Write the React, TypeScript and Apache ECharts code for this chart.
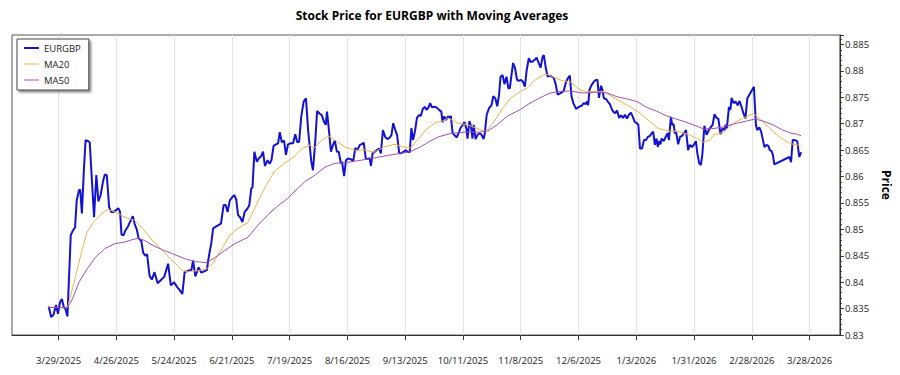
import React, { useEffect, useRef } from 'react';
import * as echarts from 'echarts';

// x values are days counted from 3/29/2025
const BASE_DATE_UTC = Date.UTC(2025, 2, 29);
const X_MIN = -22.57;
const X_MAX = 378.67;
const X_TICK_DAYS = [0, 28, 56, 84, 112, 140, 168, 196, 224, 252, 280, 308, 336, 364];

const Y_MIN = 0.83;
const Y_MAX = 0.8868;
const Y_STEP = 0.005;

const SERIES_NAMES = ['EURGBP', 'MA20', 'MA50'];

const eurgbp: [number, number][] = [
  [-4.8, 0.8354], [-3.6, 0.8334], [-2.5, 0.8338], [-1.2, 0.8357], [-0.3, 0.834], [0.7, 0.8362],
  [1.6, 0.8368], [2.6, 0.8352], [3.2, 0.8351], [4.3, 0.8335], [5.9, 0.8489], [7.0, 0.8498],
  [8.0, 0.8504], [8.8, 0.8555], [9.9, 0.8574], [10.5, 0.8575], [11.3, 0.853], [12.3, 0.8615],
  [13.1, 0.8669], [14.3, 0.8667], [15.1, 0.8665], [16.2, 0.859], [17.2, 0.8523], [18.3, 0.8603],
  [19.3, 0.8553], [20.4, 0.8565], [21.5, 0.859], [22.4, 0.8604], [23.4, 0.8602], [24.5, 0.8542],
  [25.5, 0.8533], [26.6, 0.8533], [27.7, 0.8536], [29.0, 0.854], [29.8, 0.8533], [30.5, 0.849],
  [31.5, 0.8489], [32.4, 0.8498], [33.7, 0.8506], [35.0, 0.8517], [36.0, 0.8525], [36.9, 0.851],
  [37.9, 0.85], [38.8, 0.8483], [40.1, 0.8478], [41.0, 0.8456], [42.0, 0.845], [42.9, 0.8453],
  [44.1, 0.8412], [45.2, 0.8405], [46.5, 0.8419], [48.0, 0.8398], [49.6, 0.8404], [51.2, 0.841],
  [53.1, 0.8435], [54.4, 0.8394], [56.0, 0.84], [57.6, 0.839], [58.9, 0.8384], [60.0, 0.8378],
  [61.1, 0.8419], [63.2, 0.8422], [64.4, 0.8423], [65.2, 0.8441], [66.3, 0.8411], [67.9, 0.8428],
  [69.2, 0.8418], [70.3, 0.842], [71.9, 0.8423], [72.4, 0.8438], [73.2, 0.8457], [74.0, 0.8473],
  [74.9, 0.8502], [76.2, 0.8505], [77.5, 0.8508], [78.7, 0.8511], [80.0, 0.8546], [81.0, 0.8546],
  [81.9, 0.8533], [83.0, 0.8555], [84.2, 0.8561], [85.1, 0.8565], [86.1, 0.8557], [87.0, 0.8527],
  [88.0, 0.8523], [89.1, 0.8514], [90.2, 0.8533], [91.5, 0.8539], [92.4, 0.8545], [93.4, 0.8577],
  [94.0, 0.858], [94.9, 0.8647], [96.1, 0.8628], [97.2, 0.8635], [98.1, 0.8638], [99.1, 0.8647],
  [100.0, 0.862], [101.3, 0.8631], [102.3, 0.8624], [103.2, 0.8631], [104.2, 0.8658], [105.4, 0.8661],
  [106.4, 0.8663], [107.2, 0.8684], [108.2, 0.8665], [109.3, 0.8668], [110.2, 0.8641], [111.2, 0.8661],
  [112.5, 0.8663], [113.7, 0.8663], [114.7, 0.868], [115.7, 0.8665], [116.6, 0.8666], [117.6, 0.8713],
  [118.8, 0.8742], [119.9, 0.8748], [121.0, 0.8685], [121.5, 0.8666], [122.5, 0.8628], [123.3, 0.8612],
  [124.4, 0.8666], [125.3, 0.8724], [126.6, 0.8719], [127.6, 0.8716], [128.7, 0.8703], [129.5, 0.8698],
  [130.1, 0.8723], [131.1, 0.8685], [132.0, 0.8647], [133.0, 0.866], [133.9, 0.8668], [134.9, 0.8647],
  [135.8, 0.8647], [136.8, 0.8625], [137.4, 0.8628], [138.4, 0.8601], [139.3, 0.8631], [140.3, 0.8634],
  [141.6, 0.8633], [142.8, 0.8629], [143.8, 0.8654], [144.8, 0.865], [146.0, 0.866], [146.9, 0.8661],
  [147.9, 0.8664], [148.9, 0.8634], [149.8, 0.8633], [150.8, 0.8635], [151.4, 0.862], [152.2, 0.8644],
  [153.3, 0.8647], [154.3, 0.865], [155.4, 0.8653], [156.2, 0.8644], [157.2, 0.8688], [158.3, 0.8675],
  [159.4, 0.8671], [160.3, 0.8673], [161.3, 0.8678], [162.2, 0.8701], [163.2, 0.8688], [164.1, 0.8678],
  [165.1, 0.8644], [166.0, 0.8644], [167.3, 0.8647], [168.3, 0.865], [169.2, 0.8647], [170.2, 0.8646],
  [171.0, 0.8692], [171.8, 0.8669], [172.7, 0.8685], [173.7, 0.8711], [174.6, 0.8716], [175.6, 0.8715],
  [176.5, 0.8728], [177.5, 0.8732], [178.4, 0.8726], [179.4, 0.8732], [180.1, 0.8739], [181.0, 0.8731],
  [182.0, 0.8732], [183.2, 0.8731], [184.5, 0.8726], [185.5, 0.8723], [186.1, 0.8703], [186.9, 0.8714],
  [187.8, 0.8707], [188.8, 0.8714], [189.7, 0.8711], [190.1, 0.8715], [191.0, 0.8682], [192.0, 0.8678],
  [192.9, 0.8674], [193.9, 0.8682], [194.8, 0.8692], [195.9, 0.8698], [196.7, 0.8703], [197.7, 0.869],
  [198.2, 0.8672], [199.1, 0.8705], [199.9, 0.8695], [200.6, 0.8672], [201.2, 0.8698], [202.1, 0.8671],
  [203.1, 0.8679], [204.1, 0.8682], [205.0, 0.8679], [206.0, 0.8671], [206.6, 0.8682], [207.5, 0.8717],
  [208.7, 0.873], [209.8, 0.8735], [210.7, 0.8752], [211.7, 0.8748], [212.6, 0.8733], [213.5, 0.8755],
  [214.2, 0.8789], [215.2, 0.8792], [216.1, 0.8775], [217.1, 0.8789], [218.0, 0.8767], [218.7, 0.8767],
  [219.3, 0.8786], [220.3, 0.8815], [221.2, 0.8806], [222.2, 0.8783], [223.1, 0.8781], [224.1, 0.8783],
  [225.0, 0.878], [226.0, 0.877], [226.9, 0.8802], [227.9, 0.8824], [228.8, 0.8817], [229.8, 0.8818],
  [230.8, 0.8821], [231.7, 0.8825], [232.7, 0.8815], [233.6, 0.8806], [234.6, 0.8827], [235.2, 0.883],
  [236.2, 0.8804], [237.1, 0.8789], [238.1, 0.8791], [239.0, 0.8789], [240.0, 0.8787], [240.9, 0.8775],
  [241.9, 0.8755], [242.8, 0.8757], [243.8, 0.8759], [244.8, 0.8762], [246.0, 0.878], [247.0, 0.8787],
  [247.8, 0.8791], [248.6, 0.8752], [249.5, 0.8739], [250.8, 0.8728], [252.2, 0.8732], [253.5, 0.8734],
  [254.5, 0.8739], [255.4, 0.8737], [256.1, 0.8742], [256.7, 0.8735], [257.3, 0.8764], [258.3, 0.8773],
  [259.5, 0.878], [260.5, 0.8783], [261.2, 0.8783], [261.9, 0.8749], [262.9, 0.8772], [263.6, 0.8764],
  [264.3, 0.8748], [265.3, 0.8747], [266.2, 0.8742], [267.2, 0.8737], [268.1, 0.8728], [268.8, 0.8723],
  [269.8, 0.872], [270.7, 0.8725], [271.7, 0.8711], [272.6, 0.8716], [273.6, 0.8711], [274.5, 0.8717],
  [275.5, 0.871], [276.4, 0.8717], [277.4, 0.8721], [278.3, 0.8713], [279.3, 0.8703], [280.3, 0.8701],
  [281.0, 0.8698], [281.8, 0.8653], [282.8, 0.8653], [283.7, 0.8669], [284.7, 0.8669], [285.6, 0.8675],
  [286.6, 0.8677], [287.5, 0.8682], [288.2, 0.8685], [289.0, 0.866], [289.8, 0.8672], [290.4, 0.8656],
  [291.1, 0.8667], [291.7, 0.8661], [292.3, 0.8672], [293.3, 0.8667], [294.2, 0.8675], [295.2, 0.8682],
  [295.8, 0.8669], [296.8, 0.8713], [297.4, 0.8698], [298.1, 0.8699], [298.7, 0.8682], [299.3, 0.8684],
  [300.3, 0.8661], [301.2, 0.8675], [302.2, 0.8677], [303.1, 0.8682], [304.1, 0.8688], [305.1, 0.865],
  [306.0, 0.866], [307.0, 0.8656], [307.9, 0.866], [308.9, 0.8667], [309.6, 0.8644], [310.5, 0.8625],
  [311.3, 0.8622], [312.0, 0.8641], [313.0, 0.8696], [314.1, 0.8679], [315.1, 0.8688], [316.0, 0.8693],
  [317.0, 0.8698], [317.9, 0.8718], [318.9, 0.8711], [319.8, 0.8709], [320.8, 0.868], [321.7, 0.8691],
  [322.7, 0.8688], [323.3, 0.8698], [323.9, 0.8691], [324.9, 0.8732], [325.6, 0.8726], [326.2, 0.8749],
  [327.2, 0.8739], [328.1, 0.8742], [329.1, 0.8735], [330.0, 0.8743], [331.0, 0.8732], [331.9, 0.872],
  [332.9, 0.871], [333.8, 0.8748], [334.8, 0.8755], [336.1, 0.8764], [337.0, 0.877], [338.0, 0.8697],
  [338.6, 0.8688], [339.6, 0.8693], [340.5, 0.8685], [341.5, 0.8667], [342.1, 0.8656], [343.1, 0.866],
  [344.0, 0.8658], [344.7, 0.865], [345.6, 0.8648], [346.2, 0.8641], [346.9, 0.8623], [354.2, 0.8637],
  [355.0, 0.8627], [355.8, 0.8669], [356.8, 0.8669], [358.0, 0.8667], [359.0, 0.8637], [359.9, 0.8646],
];

const ma20: [number, number][] = [
  [-4.8, 0.8352], [4.3, 0.8352], [6.7, 0.8387], [9.1, 0.8425], [11.5, 0.8463], [13.8, 0.8495],
  [17.0, 0.8514], [20.2, 0.8527], [23.9, 0.8538], [27.4, 0.8533], [32.2, 0.8523], [36.9, 0.8517],
  [40.9, 0.8501], [44.8, 0.8482], [49.6, 0.8463], [54.4, 0.8443], [57.6, 0.8432], [60.0, 0.8422],
  [62.4, 0.842], [67.9, 0.8422], [71.9, 0.8425], [75.1, 0.8438], [79.1, 0.8463], [83.0, 0.8489],
  [87.0, 0.8502], [91.8, 0.8513], [94.9, 0.8539], [99.7, 0.8577], [104.5, 0.8609], [109.3, 0.8625],
  [114.0, 0.8637], [118.0, 0.8653], [122.0, 0.866], [123.6, 0.8653], [126.8, 0.8666], [130.7, 0.8677],
  [134.7, 0.8667], [138.7, 0.8656], [143.5, 0.865], [148.2, 0.865], [153.0, 0.8646], [157.8, 0.8656],
  [162.5, 0.8661], [167.3, 0.8656], [170.5, 0.8654], [174.5, 0.8672], [178.4, 0.869], [183.2, 0.8703],
  [186.1, 0.8705], [188.8, 0.8711], [193.6, 0.8701], [198.3, 0.8698], [202.3, 0.8692], [207.1, 0.8685],
  [211.1, 0.8704], [215.0, 0.8728], [219.0, 0.8748], [223.8, 0.8761], [227.0, 0.8767], [231.0, 0.8783],
  [234.9, 0.8792], [236.5, 0.8794], [240.5, 0.8787], [244.5, 0.8781], [248.4, 0.8779], [251.6, 0.8767],
  [255.6, 0.876], [259.5, 0.8761], [264.3, 0.8761], [268.3, 0.8751], [272.3, 0.8742], [277.0, 0.8732],
  [281.8, 0.872], [286.6, 0.8704], [290.6, 0.8691], [296.1, 0.8686], [300.9, 0.8685], [305.7, 0.8679],
  [309.6, 0.8672], [312.0, 0.8665], [315.2, 0.8668], [317.6, 0.8679], [322.4, 0.8684], [327.2, 0.8701],
  [331.9, 0.8711], [336.7, 0.8719], [339.9, 0.871], [344.7, 0.8691], [349.4, 0.8675], [354.2, 0.8663],
  [357.4, 0.866], [359.8, 0.8658],
];

const ma50: [number, number][] = [
  [-4.8, 0.8352], [4.3, 0.8352], [6.7, 0.8368], [9.9, 0.84], [13.8, 0.8425], [17.8, 0.8447],
  [22.6, 0.8464], [27.4, 0.8473], [32.2, 0.8476], [36.1, 0.8481], [38.5, 0.8483], [41.7, 0.8479],
  [46.5, 0.8468], [51.2, 0.846], [55.2, 0.8454], [61.5, 0.8444], [66.3, 0.8439], [71.9, 0.8437],
  [75.9, 0.8447], [80.6, 0.846], [85.4, 0.8473], [91.8, 0.8485], [96.6, 0.8508], [101.3, 0.8527],
  [106.1, 0.8544], [110.9, 0.8558], [115.7, 0.8577], [119.6, 0.8591], [124.4, 0.8603], [129.2, 0.8618],
  [133.9, 0.8625], [140.3, 0.8627], [146.7, 0.8631], [153.0, 0.8635], [159.4, 0.864], [165.7, 0.8644],
  [170.5, 0.8647], [175.3, 0.8656], [180.1, 0.8667], [184.0, 0.8675], [190.4, 0.8682], [196.7, 0.8684],
  [203.1, 0.8684], [207.9, 0.8686], [212.6, 0.8698], [217.4, 0.8714], [223.8, 0.8727], [228.5, 0.8739],
  [233.3, 0.8749], [238.1, 0.8758], [242.8, 0.8761], [247.6, 0.8762], [254.8, 0.8758], [261.2, 0.876],
  [266.0, 0.8758], [270.7, 0.8751], [275.5, 0.8747], [280.3, 0.8742], [285.0, 0.8731], [289.8, 0.8724],
  [294.6, 0.8715], [299.3, 0.8709], [304.1, 0.8703], [308.9, 0.8696], [312.8, 0.869], [317.6, 0.8691],
  [322.4, 0.8694], [328.7, 0.8701], [333.5, 0.8705], [337.5, 0.8709], [341.5, 0.8705], [346.2, 0.8698],
  [351.0, 0.8688], [355.0, 0.8682], [358.2, 0.868], [359.9, 0.8677],
];

const FONT = "'Segoe UI', 'Open Sans', sans-serif";
const COLORS = ['#1212d4', '#f3b24a', '#a24fb2'];
const LINE_WIDTHS = [2, 1, 1];

function formatDay(v: number): string {
  const d = new Date(BASE_DATE_UTC + Math.round(v) * 86400000);
  return `${d.getUTCMonth() + 1}/${d.getUTCDate()}/${d.getUTCFullYear()}`;
}

function formatPrice(v: number): string {
  const k = v / Y_STEP;
  if (Math.abs(k - Math.round(k)) > 1e-6) return '';
  return String(Math.round(v * 1000) / 1000);
}

export default function App() {
  const ref = useRef<HTMLDivElement>(null);

  useEffect(() => {
    if (!ref.current) return;
    const chart = echarts.init(ref.current, undefined, { renderer: 'svg' });
    const datasets = [eurgbp, ma20, ma50];
    chart.setOption({
      animation: false,
      backgroundColor: '#ffffff',
      graphic: [
        {
          type: 'text',
          x: 432,
          y: 15,
          style: {
            text: 'Stock Price for EURGBP with Moving Averages',
            textAlign: 'center',
            textVerticalAlign: 'middle',
            font: `bold 12px ${FONT}`,
            fill: '#000',
          },
        },
      ],
      grid: {
        left: 12,
        right: 47,
        top: 35,
        bottom: 40,
        show: true,
        borderColor: '#555',
        borderWidth: 1,
        backgroundColor: 'transparent',
      },
      legend: {
        data: SERIES_NAMES.map((name, i) => ({
          name,
          icon: `path://M0,0 H15 V${LINE_WIDTHS[i]} H0 Z`,
        })),
        orient: 'vertical',
        left: 17,
        top: 39,
        itemWidth: 15,
        itemHeight: 10,
        itemGap: 6,
        padding: [4, 8, 5, 7],
        backgroundColor: '#fff',
        borderColor: '#444',
        borderWidth: 1,
        borderRadius: 0,
        shadowColor: 'rgba(0,0,0,0.45)',
        shadowBlur: 2,
        shadowOffsetX: 2,
        shadowOffsetY: 2,
        textStyle: { fontSize: 9.5, color: '#222', fontFamily: FONT },
      },
      xAxis: {
        type: 'value',
        min: X_MIN,
        max: X_MAX,
        axisLine: { show: true, onZero: false, lineStyle: { color: '#333', width: 1 } },
        axisTick: { show: true, customValues: X_TICK_DAYS, length: 5, lineStyle: { color: '#333' } },
        axisLabel: {
          customValues: X_TICK_DAYS,
          formatter: formatDay,
          margin: 20,
          fontSize: 9.5,
          color: '#222',
          fontFamily: FONT,
        },
        splitLine: { show: true, lineStyle: { color: '#e4e4e4', width: 1 } },
      },
      yAxis: {
        type: 'value',
        position: 'right',
        min: Y_MIN,
        max: Y_MAX,
        interval: Y_STEP,
        axisLine: { show: true, onZero: false, lineStyle: { color: '#333', width: 1 } },
        axisTick: { show: true, length: 4, lineStyle: { color: '#333' } },
        minorTick: { show: true, splitNumber: 5, length: 2, lineStyle: { color: '#333' } },
        axisLabel: { margin: 5, fontSize: 9.5, color: '#222', fontFamily: FONT, formatter: formatPrice },
        splitLine: { show: false },
        name: 'Price',
        nameLocation: 'middle',
        nameRotate: -90,
        nameGap: 26,
        nameTextStyle: { fontWeight: 'bold', fontSize: 12, color: '#000', fontFamily: FONT },
      },
      series: SERIES_NAMES.map((name, i) => ({
        name,
        type: 'line',
        data: datasets[i],
        symbol: 'none',
        lineStyle: { color: COLORS[i], width: LINE_WIDTHS[i] },
        itemStyle: { color: COLORS[i] },
      })),
    });
    return () => chart.dispose();
  }, []);

  return <div ref={ref} style={{ width: 900, height: 375, margin: -8 }} />;
}
